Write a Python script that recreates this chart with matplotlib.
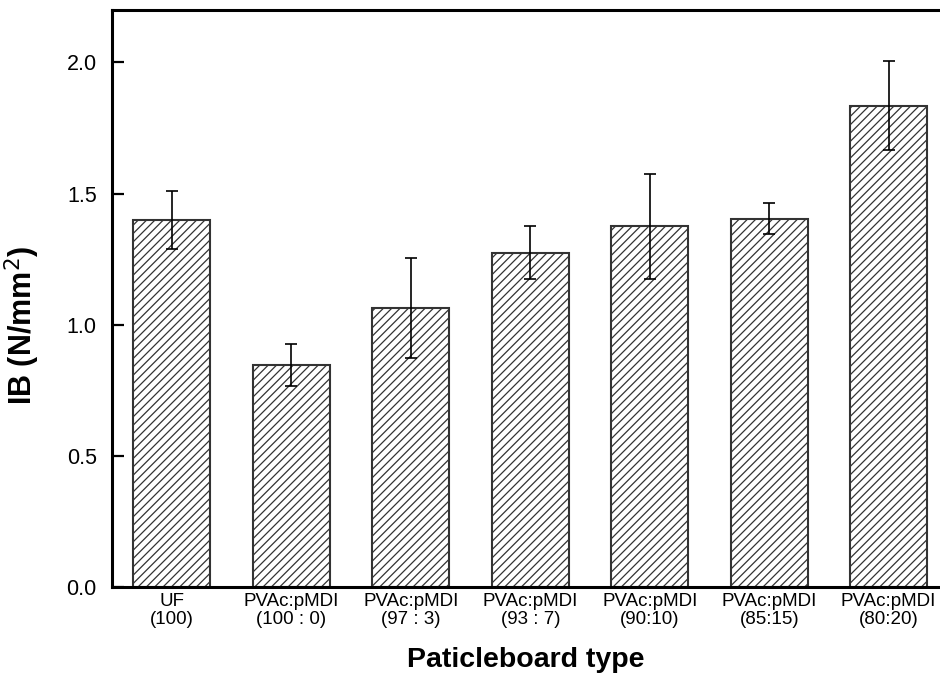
import numpy as np
import matplotlib
matplotlib.use('Agg')
import matplotlib.pyplot as plt

# === Data ===
categories = ['UF\n(100)', 'PVAc:pMDI\n(100 : 0)', 'PVAc:pMDI\n(97 : 3)',
              'PVAc:pMDI\n(93 : 7)', 'PVAc:pMDI\n(90:10)', 'PVAc:pMDI\n(85:15)',
              'PVAc:pMDI\n(80:20)']
ib_mean = [1.40, 0.845, 1.065, 1.275, 1.375, 1.405, 1.835]
ib_err = [0.11, 0.08, 0.19, 0.10, 0.20, 0.06, 0.17]
y_ticks = [0.0, 0.5, 1.0, 1.5, 2.0]

plt.rcParams['font.family'] = ['Liberation Sans', 'DejaVu Sans']
plt.rcParams['hatch.linewidth'] = 0.9
plt.rcParams['hatch.color'] = 'black'

fig = plt.figure(figsize=(9.4, 6.75), dpi=100)
ax = fig.add_axes([112 / 940, 1 - 587 / 675, 1 - 112 / 940, (587 - 10) / 675])

x = np.arange(len(categories))
ax.bar(x, ib_mean, width=0.645, color='white', edgecolor='#333333',
       linewidth=1.5, hatch='////', zorder=2)
ax.errorbar(x, ib_mean, yerr=ib_err, fmt='none', ecolor='black',
            elinewidth=1.2, capsize=4.3, capthick=1.2, zorder=3)

# === Axes styling ===
ax.set_xlim(-0.502, 6.43)
ax.set_ylim(0, 2.2)
ax.set_yticks(y_ticks)
ax.set_yticklabels([f'{v:.1f}' for v in y_ticks])
ax.set_xticks(x)
ax.set_xticklabels(categories, fontsize=13.5, linespacing=1.1)

ax.spines['right'].set_visible(False)
for s in ['left', 'top', 'bottom']:
    ax.spines[s].set_linewidth(2.2)

ax.tick_params(axis='y', direction='in', length=8.5, width=1.6,
               labelsize=15.5, pad=11)
ax.tick_params(axis='x', direction='in', length=7, width=1.3, pad=4)

ax.set_ylabel('IB (N/mm$^{2}$)', fontsize=22, fontweight='bold')
ax.yaxis.set_label_coords(-0.084, 0.454)
ax.set_xlabel('Paticleboard type', fontsize=20.5, fontweight='bold', labelpad=14)

fig.savefig('out.png', dpi=100)
